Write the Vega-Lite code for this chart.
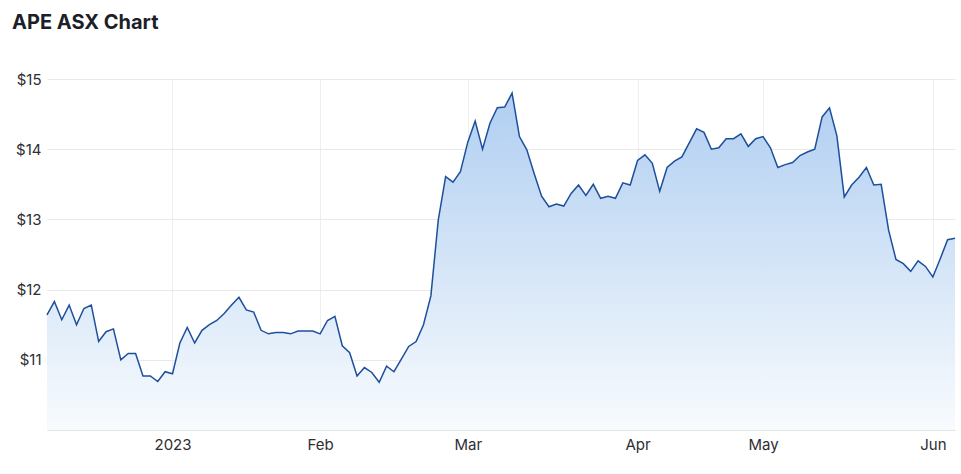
{
  "$schema": "https://vega.github.io/schema/vega-lite/v6.json",
  "width": 908,
  "height": 351,
  "autosize": {"type": "none"},
  "padding": {"left": 47, "top": 79, "right": 6, "bottom": 44},
  "background": "white",
  "title": {
    "text": "APE ASX Chart",
    "anchor": "start",
    "frame": "group",
    "dx": -35,
    "offset": 39,
    "font": "Inter",
    "fontSize": 20,
    "fontWeight": 700,
    "color": "#1c1f2a"
  },
  "config": {
    "view": {"stroke": null},
    "axis": {"labelFont": "Inter", "labelFontSize": 15, "labelColor": "#2e2e33"}
  },
  "data": {
    "values": [
      {"date": "2022-12-06", "price": 11.64},
      {"date": "2022-12-07", "price": 11.83},
      {"date": "2022-12-08", "price": 11.57},
      {"date": "2022-12-09", "price": 11.78},
      {"date": "2022-12-12", "price": 11.50},
      {"date": "2022-12-13", "price": 11.73},
      {"date": "2022-12-14", "price": 11.78},
      {"date": "2022-12-15", "price": 11.26},
      {"date": "2022-12-16", "price": 11.40},
      {"date": "2022-12-19", "price": 11.44},
      {"date": "2022-12-20", "price": 11.00},
      {"date": "2022-12-21", "price": 11.09},
      {"date": "2022-12-22", "price": 11.09},
      {"date": "2022-12-23", "price": 10.77},
      {"date": "2022-12-28", "price": 10.77},
      {"date": "2022-12-29", "price": 10.69},
      {"date": "2022-12-30", "price": 10.83},
      {"date": "2023-01-03", "price": 10.80},
      {"date": "2023-01-04", "price": 11.24},
      {"date": "2023-01-05", "price": 11.46},
      {"date": "2023-01-06", "price": 11.24},
      {"date": "2023-01-09", "price": 11.42},
      {"date": "2023-01-10", "price": 11.50},
      {"date": "2023-01-11", "price": 11.56},
      {"date": "2023-01-12", "price": 11.66},
      {"date": "2023-01-13", "price": 11.78},
      {"date": "2023-01-16", "price": 11.89},
      {"date": "2023-01-17", "price": 11.71},
      {"date": "2023-01-18", "price": 11.68},
      {"date": "2023-01-19", "price": 11.42},
      {"date": "2023-01-20", "price": 11.37},
      {"date": "2023-01-23", "price": 11.39},
      {"date": "2023-01-24", "price": 11.39},
      {"date": "2023-01-25", "price": 11.37},
      {"date": "2023-01-27", "price": 11.41},
      {"date": "2023-01-30", "price": 11.41},
      {"date": "2023-01-31", "price": 11.41},
      {"date": "2023-02-01", "price": 11.37},
      {"date": "2023-02-02", "price": 11.56},
      {"date": "2023-02-03", "price": 11.62},
      {"date": "2023-02-06", "price": 11.20},
      {"date": "2023-02-07", "price": 11.10},
      {"date": "2023-02-08", "price": 10.77},
      {"date": "2023-02-09", "price": 10.89},
      {"date": "2023-02-10", "price": 10.82},
      {"date": "2023-02-13", "price": 10.68},
      {"date": "2023-02-14", "price": 10.91},
      {"date": "2023-02-15", "price": 10.83},
      {"date": "2023-02-16", "price": 11.01},
      {"date": "2023-02-17", "price": 11.19},
      {"date": "2023-02-20", "price": 11.26},
      {"date": "2023-02-21", "price": 11.50},
      {"date": "2023-02-22", "price": 11.91},
      {"date": "2023-02-23", "price": 12.99},
      {"date": "2023-02-24", "price": 13.61},
      {"date": "2023-02-27", "price": 13.53},
      {"date": "2023-02-28", "price": 13.68},
      {"date": "2023-03-01", "price": 14.10},
      {"date": "2023-03-02", "price": 14.40},
      {"date": "2023-03-03", "price": 14.00},
      {"date": "2023-03-06", "price": 14.37},
      {"date": "2023-03-07", "price": 14.59},
      {"date": "2023-03-08", "price": 14.60},
      {"date": "2023-03-09", "price": 14.80},
      {"date": "2023-03-10", "price": 14.18},
      {"date": "2023-03-13", "price": 13.99},
      {"date": "2023-03-14", "price": 13.65},
      {"date": "2023-03-15", "price": 13.33},
      {"date": "2023-03-16", "price": 13.18},
      {"date": "2023-03-17", "price": 13.22},
      {"date": "2023-03-20", "price": 13.19},
      {"date": "2023-03-21", "price": 13.37},
      {"date": "2023-03-22", "price": 13.49},
      {"date": "2023-03-23", "price": 13.34},
      {"date": "2023-03-24", "price": 13.50},
      {"date": "2023-03-27", "price": 13.30},
      {"date": "2023-03-28", "price": 13.33},
      {"date": "2023-03-29", "price": 13.30},
      {"date": "2023-03-30", "price": 13.52},
      {"date": "2023-03-31", "price": 13.49},
      {"date": "2023-04-03", "price": 13.84},
      {"date": "2023-04-04", "price": 13.92},
      {"date": "2023-04-05", "price": 13.80},
      {"date": "2023-04-06", "price": 13.40},
      {"date": "2023-04-11", "price": 13.74},
      {"date": "2023-04-12", "price": 13.83},
      {"date": "2023-04-13", "price": 13.89},
      {"date": "2023-04-14", "price": 14.09},
      {"date": "2023-04-17", "price": 14.29},
      {"date": "2023-04-18", "price": 14.24},
      {"date": "2023-04-19", "price": 14.00},
      {"date": "2023-04-20", "price": 14.02},
      {"date": "2023-04-21", "price": 14.15},
      {"date": "2023-04-24", "price": 14.15},
      {"date": "2023-04-26", "price": 14.22},
      {"date": "2023-04-27", "price": 14.04},
      {"date": "2023-04-28", "price": 14.15},
      {"date": "2023-05-01", "price": 14.18},
      {"date": "2023-05-02", "price": 14.02},
      {"date": "2023-05-03", "price": 13.74},
      {"date": "2023-05-04", "price": 13.78},
      {"date": "2023-05-05", "price": 13.81},
      {"date": "2023-05-08", "price": 13.91},
      {"date": "2023-05-09", "price": 13.96},
      {"date": "2023-05-10", "price": 14.00},
      {"date": "2023-05-11", "price": 14.46},
      {"date": "2023-05-12", "price": 14.59},
      {"date": "2023-05-15", "price": 14.19},
      {"date": "2023-05-16", "price": 13.32},
      {"date": "2023-05-17", "price": 13.49},
      {"date": "2023-05-18", "price": 13.60},
      {"date": "2023-05-19", "price": 13.74},
      {"date": "2023-05-22", "price": 13.49},
      {"date": "2023-05-23", "price": 13.50},
      {"date": "2023-05-24", "price": 12.85},
      {"date": "2023-05-25", "price": 12.43},
      {"date": "2023-05-26", "price": 12.37},
      {"date": "2023-05-29", "price": 12.26},
      {"date": "2023-05-30", "price": 12.41},
      {"date": "2023-05-31", "price": 12.33},
      {"date": "2023-06-01", "price": 12.18},
      {"date": "2023-06-02", "price": 12.44},
      {"date": "2023-06-05", "price": 12.71},
      {"date": "2023-06-06", "price": 12.73}
    ]
  },
  "encoding": {
    "x": {
      "field": "date",
      "type": "ordinal",
      "sort": null,
      "scale": {"type": "point", "padding": 0},
      "axis": {
        "title": null,
        "values": ["2023-01-03", "2023-02-01", "2023-03-01", "2023-04-03", "2023-05-01", "2023-06-01"],
        "labelExpr": "datum.value == '2023-01-03' ? '2023' : datum.value == '2023-02-01' ? 'Feb' : datum.value == '2023-03-01' ? 'Mar' : datum.value == '2023-04-03' ? 'Apr' : datum.value == '2023-05-01' ? 'May' : 'Jun'",
        "labelAngle": 0,
        "labelPadding": 7,
        "labelFlush": false,
        "labelOverlap": false,
        "ticks": false,
        "grid": true,
        "gridColor": "#eeeeee",
        "gridWidth": 1,
        "domain": true,
        "domainColor": "#e3e3e3",
        "domainWidth": 1
      }
    },
    "y": {
      "field": "price",
      "type": "quantitative",
      "scale": {"domain": [10, 15], "nice": false, "zero": false},
      "axis": {
        "title": null,
        "values": [11, 12, 13, 14, 15],
        "labelExpr": "'$' + datum.value",
        "labelPadding": 6,
        "ticks": false,
        "domain": false,
        "grid": true,
        "gridColor": "#e9e9e9",
        "gridWidth": 1
      }
    }
  },
  "layer": [
    {
      "mark": {
        "type": "area",
        "interpolate": "linear",
        "color": {
          "gradient": "linear",
          "x1": 0, "y1": 0, "x2": 0, "y2": 1,
          "stops": [
            {"offset": 0, "color": "#b0cef1"},
            {"offset": 1, "color": "#f8fbfe"}
          ]
        }
      },
      "encoding": {"y2": {"datum": 10}}
    },
    {
      "mark": {"type": "line", "color": "#1d4f9c", "strokeWidth": 1.5, "interpolate": "linear"}
    }
  ]
}
